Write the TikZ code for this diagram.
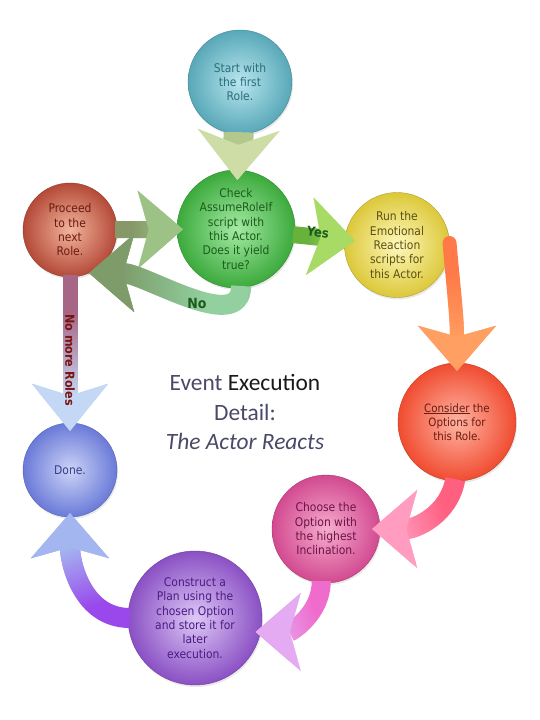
\documentclass[tikz,border=0pt]{standalone}
\usepackage{fontspec}
\setmainfont{DejaVu Sans Condensed}
\newfontfamily\titlefont{Carlito}
\usepackage{tikz}
\usetikzlibrary{arrows.meta, shadows, fadings}

% ball colours: inner, outer, text
\definecolor{startin}{HTML}{B8E6EE}\definecolor{startout}{HTML}{58A8B8}\definecolor{starttxt}{HTML}{2C6E7C}
\definecolor{checkin}{HTML}{A4EAA4}\definecolor{checkout}{HTML}{3CAA3C}\definecolor{checktxt}{HTML}{1C5C1C}
\definecolor{procin}{HTML}{F2B49C}\definecolor{procout}{HTML}{B44A38}\definecolor{proctxt}{HTML}{6A1C12}
\definecolor{runin}{HTML}{FFF8BC}\definecolor{runout}{HTML}{DCC83A}\definecolor{runtxt}{HTML}{5A5214}
\definecolor{consin}{HTML}{FFB4A4}\definecolor{consout}{HTML}{F04C30}\definecolor{constxt}{HTML}{6A1C12}
\definecolor{donein}{HTML}{CCD4F6}\definecolor{doneout}{HTML}{6A7AD8}\definecolor{donetxt}{HTML}{3A3C8C}
\definecolor{choosein}{HTML}{F6ACCE}\definecolor{chooseout}{HTML}{D24A90}\definecolor{choosetxt}{HTML}{6C1446}
\definecolor{plain}{HTML}{DEC8F6}\definecolor{planout}{HTML}{8A50C4}\definecolor{plantxt}{HTML}{4A1C84}
% arrow colours: shaft start, head
\definecolor{topA}{HTML}{B2C88C}\definecolor{topB}{HTML}{CEDCA6}
\definecolor{loopA}{HTML}{869868}\definecolor{loopB}{HTML}{9CC286}
\definecolor{noA}{HTML}{92D0A0}\definecolor{noB}{HTML}{7E9C6A}
\definecolor{yesA}{HTML}{68B23C}\definecolor{yesB}{HTML}{A8DA66}
\definecolor{emoA}{HTML}{FF7A48}\definecolor{emoB}{HTML}{FFA062}
\definecolor{optA}{HTML}{FF6080}\definecolor{optB}{HTML}{FF9CC0}
\definecolor{pickA}{HTML}{F06CCC}\definecolor{pickB}{HTML}{E4AAF2}
\definecolor{planA}{HTML}{9A48EC}\definecolor{planB}{HTML}{A4B6F0}
\definecolor{endA}{HTML}{A86686}\definecolor{endB}{HTML}{C4D8F6}
\definecolor{lblgreen}{HTML}{1A5A1A}
\definecolor{lblred}{HTML}{7A1410}
\definecolor{titlegray}{HTML}{4A4A68}

\tikzfading[name=gradfade, left color=transparent!100, right color=transparent!0]

\begin{document}
\begin{tikzpicture}[x=1bp, y=1bp,
  ball/.style 2 args={circle, draw=#2!80!black, line width=0.4bp, inner color=#1, outer color=#2,
    inner sep=0pt, align=center, font=\fontsize{12}{14.4}\selectfont,
    drop shadow={opacity=0.18, shadow xshift=1bp, shadow yshift=-2bp}},
  hd/.style n args={4}{-{Stealth[length=#1, width=#2, inset=#3, line width=0.1bp, color=#4]}},
  blk/.style n args={6}{line width=#1, draw=#2, shorten <=-2bp, hd={45bp}{78bp}{11bp}{#3},
    postaction={draw=#3, path fading=gradfade, fit fading=false,
      fading transform={shift={#6}, rotate=#4, scale=#5}}},
  lbl/.style={font=\bfseries\fontsize{12.5}{14}\selectfont, text=lblgreen},
]
  \fill[white] (0,0) rectangle (540,720);
  \useasboundingbox (0,0) rectangle (540,720);

  \node[ball={startin}{startout}, minimum size=104bp, text=starttxt] (start) at (240,638) {Start with\\the first\\Role.};
  \node[ball={checkin}{checkout}, minimum size=118bp, text=checktxt] (check) at (236,491) {Check\\AssumeRoleIf\\script with\\this Actor.\\Does it yield\\true?};
  \node[ball={procin}{procout}, minimum size=94bp, text=proctxt] (proceed) at (70,490) {Proceed\\to the\\next\\Role.};
  \node[ball={runin}{runout}, minimum size=105bp, text=runtxt] (run) at (397,475) {Run the\\Emotional\\Reaction\\scripts for\\this Actor.};
  \node[ball={consin}{consout}, minimum size=118bp, text=constxt, font=\fontsize{11.5}{14.2}\selectfont] (consider) at (457,298) {\underline{Consider} the\\Options for\\this Role.};
  \node[ball={donein}{doneout}, minimum size=94bp, text=donetxt] (done) at (70,250) {Done.};
  \node[ball={choosein}{chooseout}, minimum size=108bp, text=choosetxt] (choose) at (326,191) {Choose the\\Option with\\the highest\\Inclination.};
  \node[ball={plain}{planout}, minimum size=134bp, text=plantxt] (construct) at (195,102) {Construct a\\Plan using the\\chosen Option\\and store it for\\later\\execution.};

  \node[font=\titlefont\fontsize{23.5}{29.5}\selectfont, text=titlegray, align=center] (title) at (245,308)
    {Event \textcolor{black!90}{Execution}\\Detail:\\\textit{The Actor Reacts}};

  % connectors
  \draw[blk={30bp}{topA}{topB}{-90}{0.55}{(238,562)}, hd={50bp}{82bp}{15bp}{topB}, shorten >=-10bp] (start) -- (check);
  \draw[blk={17bp}{loopA}{loopB}{0}{0.75}{(150,490)}, shorten >=-6bp] (proceed) -- (check);
  \draw[blk={20bp}{noA}{noB}{180}{1.7}{(163,416)}] (check.-85) .. controls +(-90:47) and +(0:55) .. (proceed.-66);
  \draw[blk={17bp}{yesA}{yesB}{-6}{0.7}{(325,482)}, shorten >=-10bp] (check) -- (run);
  \draw[blk={14bp}{emoA}{emoB}{-90}{1.4}{(453,412)}, line cap=round, shorten >=-8bp] (run.east) to[out=-85, in=90] (consider.north);
  \draw[blk={20bp}{optA}{optB}{200}{1.1}{(414,215)}, shorten >=-8bp] (consider.-92) to[out=-100, in=0] (choose.east);
  \draw[blk={19bp}{pickA}{pickB}{200}{1.0}{(288,112)}, shorten >=-5bp] (choose.-95) to[out=-90, in=0] (construct.-12);
  \draw[blk={20bp}{planA}{planB}{110}{1.3}{(99,150)}, shorten >=-4bp] (construct.west) to[out=180, in=-90] (done.south);
  \draw[blk={15bp}{endA}{endB}{-90}{1.7}{(70,366)}, hd={47bp}{76bp}{12bp}{endB}, shorten >=-8bp] (proceed) -- (done);

  \node[lbl, rotate=-8, font=\bfseries\fontsize{13}{15}\selectfont] (yes) at (318,488) {Yes};
  \node[lbl, font=\bfseries\fontsize{14}{16}\selectfont] (no) at (197,416) {No};
  \node[lbl, text=lblred, rotate=-90] (nomore) at (70,360) {No more Roles};
\end{tikzpicture}
\end{document}
